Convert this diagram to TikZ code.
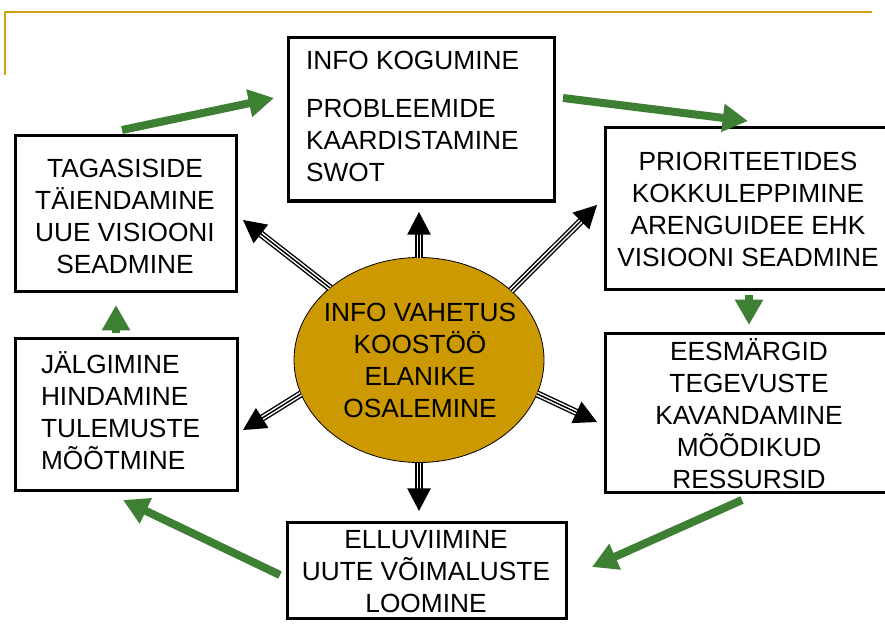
\documentclass[tikz,border=0pt]{standalone}
\usepackage{fontspec}
\setmainfont{Liberation Sans}
\usetikzlibrary{arrows.meta,shapes.geometric}
\definecolor{goldline}{RGB}{212,160,23}
\definecolor{goldfill}{RGB}{204,153,0}
\definecolor{arrgreen}{RGB}{61,128,51}
\begin{document}
\begin{tikzpicture}[x=0.75pt,y=-0.75pt,
  box/.style={draw=black, line width=2.25pt, rectangle, inner sep=0pt, outer sep=0pt},
  txt/.style={font=\fontsize{19.7}{24}\selectfont, inner sep=0pt, outer sep=0pt},
  garrow/.style={draw=arrgreen, fill=arrgreen, line width=6pt, -{Triangle[length=19pt,width=20pt]}},
  dbl/.style={-{Triangle[length=17pt,width=17.5pt]}, draw=black, line width=1.1pt,
    preaction={draw=white, -, line width=3.3pt, shorten >=14pt,
      preaction={draw=black, -, line width=5.4pt, shorten >=14pt}}}]
\useasboundingbox (0,0) rectangle (885,631);
\clip (0,0) rectangle (885,631);
\draw[goldline, line width=1.5pt] (5,75) -- (5,12) -- (872,12);

% boxes
\node[box, minimum width=221*0.75pt, minimum height=155*0.75pt] (tl) at (125.5,213.5) {};
\node[box, minimum width=222*0.75pt, minimum height=152*0.75pt] (ml) at (126,414) {};
\node[box, minimum width=266*0.75pt, minimum height=163*0.75pt] (tp) at (421,119.5) {};
\node[box, minimum width=286*0.75pt, minimum height=161*0.75pt] (rt) at (748,208.5) {};
\node[box, minimum width=286*0.75pt, minimum height=159*0.75pt] (rb) at (748,412.5) {};
\node[box, minimum width=279*0.75pt, minimum height=96*0.75pt] (bt) at (426.5,570) {};

% texts
\node[txt, align=center] (tltext) at (125,216) {TAGASISIDE\\TÄIENDAMINE\\UUE VISIOONI\\SEADMINE};
\node[txt, align=left, anchor=west] (mltext) at (41,411) {JÄLGIMINE\\HINDAMINE\\TULEMUSTE\\MÕÕTMINE};
\node[txt, anchor=west] (tptext1) at (306,60) {INFO KOGUMINE};
\node[txt, align=left, anchor=west] (tptext2) at (306,140) {PROBLEEMIDE\\KAARDISTAMINE\\SWOT};
\node[txt, align=center] (rttext) at (748,209) {PRIORITEETIDES\\KOKKULEPPIMINE\\ARENGUIDEE EHK\\VISIOONI SEADMINE};
\node[txt, align=center] (rbtext) at (749,414) {EESMÄRGID\\TEGEVUSTE\\KAVANDAMINE\\MÕÕDIKUD\\RESSURSID};
\node[txt, align=center] (bttext) at (426,572) {ELLUVIIMINE\\UUTE VÕIMALUSTE\\LOOMINE};

% centre ellipse
\node[ellipse, draw=black, line width=0.6pt, fill=goldfill, minimum width=250*0.75pt,
  minimum height=205*0.75pt, inner sep=0pt, outer sep=0pt] (c) at (419,360) {};
\node[txt, align=center] (ctext) at (420,360) {INFO VAHETUS\\KOOSTÖÖ\\ELANIKE\\OSALEMINE};

% double arrows
\coordinate (dU) at (419,212);
\coordinate (dUL) at (243,220);
\coordinate (dUR) at (597,205);
\coordinate (dLL) at (243,430);
\coordinate (dLR) at (597,422);
\coordinate (dD) at (419,511);
\draw[dbl] (c.90) -- (dU);
\draw[dbl] (c.141) -- (dUL);
\draw[dbl] (c.37) -- (dUR);
\draw[dbl] (c.196) -- (dLL);
\draw[dbl] (c.344) -- (dLR);
\draw[dbl] (c.270) -- (dD);

% green arrows
\coordinate (g1a) at (122,130); \coordinate (g1b) at (274,98);
\coordinate (g2a) at (563,98);  \coordinate (g2b) at (748,121);
\coordinate (g3a) at (749,295); \coordinate (g3b) at (749,325);
\coordinate (g4a) at (742,500); \coordinate (g4b) at (592,567);
\coordinate (g5a) at (280,575); \coordinate (g5b) at (123,500);
\coordinate (g6a) at (116,333); \coordinate (g6b) at (116,305);
\draw[garrow] (g1a) -- (g1b);
\draw[garrow] (g2a) -- (g2b);
\draw[garrow] (g3a) -- (g3b);
\draw[garrow] (g4a) -- (g4b);
\draw[garrow] (g5a) -- (g5b);
\draw[garrow] (g6a) -- (g6b);
\end{tikzpicture}
\end{document}
